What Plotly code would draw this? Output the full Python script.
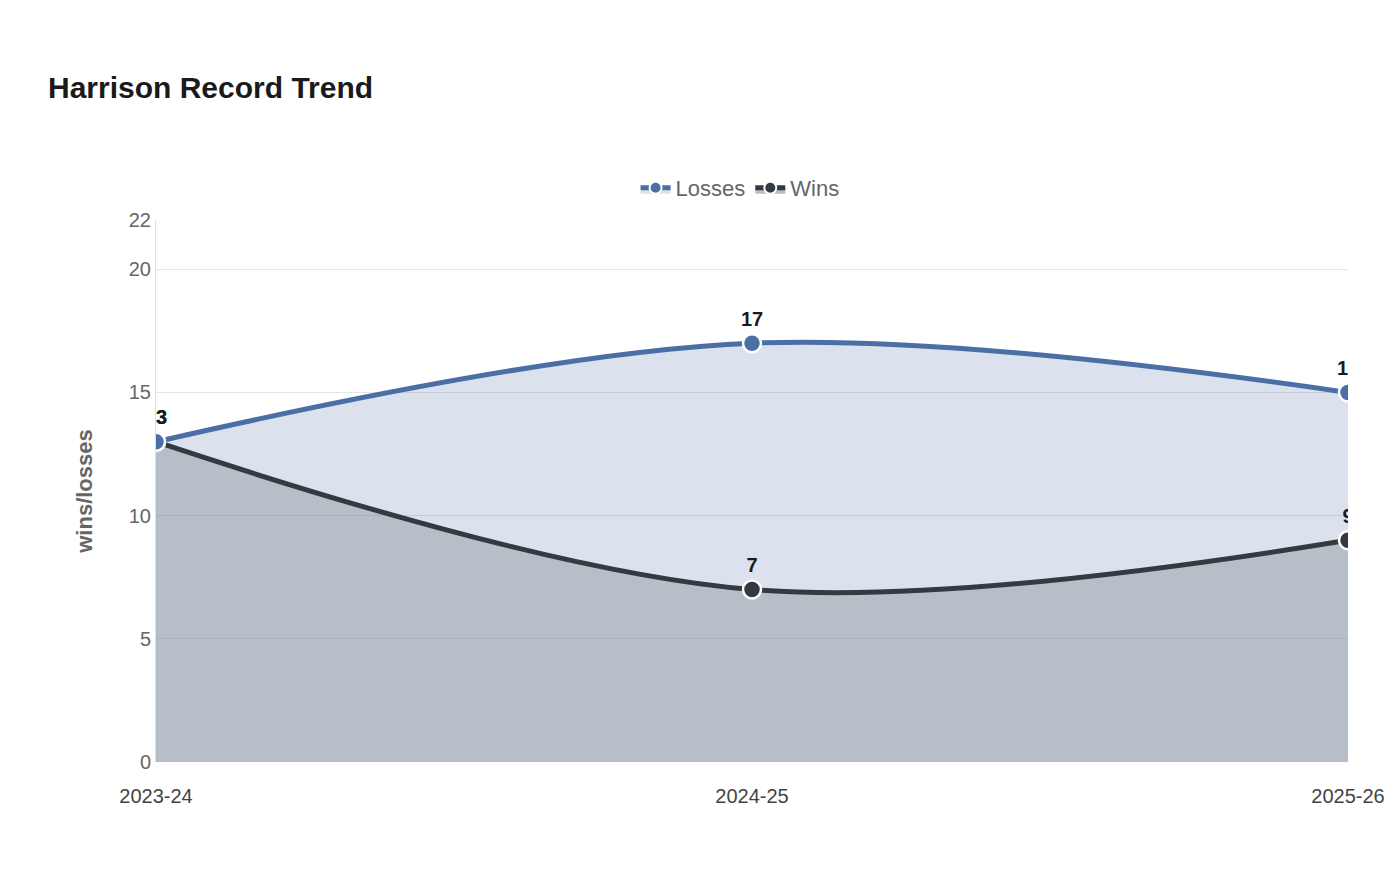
import plotly.graph_objects as go

seasons = ["2023-24", "2024-25", "2025-26"]
wins = [13, 7, 9]
losses = [13, 17, 15]
yticks = [0, 5, 10, 15, 20, 22]

fig = go.Figure()
fig.add_trace(go.Scatter(
    x=seasons, y=wins, name="Wins", mode="lines+markers+text",
    line=dict(color="#343a40", width=5, shape="spline", smoothing=1),
    marker=dict(size=18, color="#343a40", line=dict(color="white", width=2.5)),
    fill="tozeroy", fillcolor="rgba(122,136,153,0.55)",
    text=[str(v) for v in wins], textposition="top center",
    textfont=dict(size=20, color="#1a1a1a", family="Liberation Sans", weight="bold"),
))
fig.add_trace(go.Scatter(
    x=seasons, y=losses, name="Losses", mode="lines+markers+text",
    line=dict(color="#4a6fa5", width=5, shape="spline", smoothing=1),
    marker=dict(size=18, color="#4a6fa5", line=dict(color="white", width=2.5)),
    fill="tonexty", fillcolor="rgba(74,111,165,0.2)",
    text=[str(v) for v in losses], textposition="top center",
    textfont=dict(size=20, color="#1a1a1a", family="Liberation Sans", weight="bold"),
))
fig.update_layout(
    width=1400, height=880, plot_bgcolor="white", paper_bgcolor="white",
    font=dict(family="Liberation Sans", color="#666"),
    title=dict(text="<b>Harrison Record Trend</b>", x=40/1400, xanchor="left", y=1-79/880, yanchor="middle",
               font=dict(size=30, color="#1a1a1a")),
    margin=dict(l=148, r=60, t=212, b=126),
    legend=dict(orientation="h", x=0.49, xanchor="center", y=1+32/542, yanchor="middle",
                font=dict(size=22, color="#666"), itemsizing="constant"),
    xaxis=dict(showgrid=False, range=[0, 2], type="category", tickfont=dict(size=20, color="#444"),
               ticks="", ticklabelstandoff=20),
    yaxis=dict(range=[0, 22], tickvals=yticks, gridcolor="#e5e5e5", showline=True, linecolor="#e0e0e0",
               tickfont=dict(size=20, color="#666"), zeroline=False,
               title=dict(text="<b>wins/losses</b>", font=dict(size=22, color="#666"), standoff=30)),
)
fig.write_html("out.html")
